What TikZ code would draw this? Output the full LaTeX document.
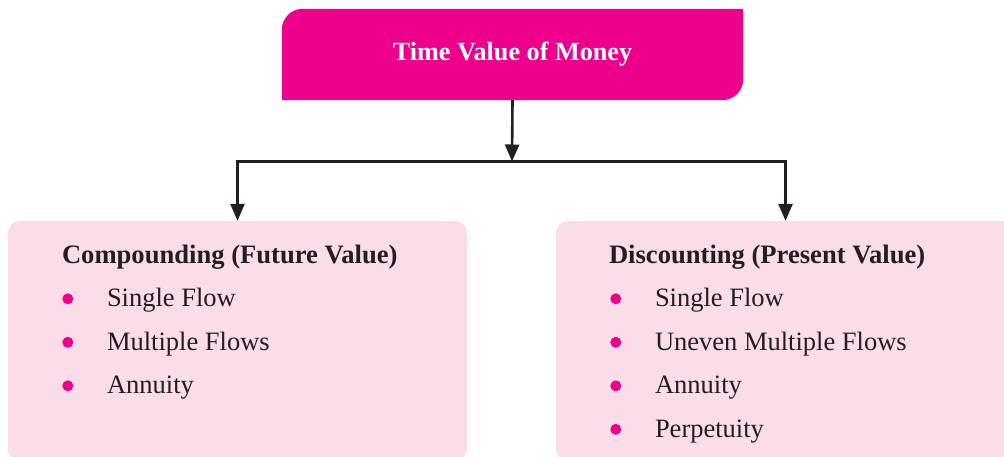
\documentclass[tikz,border=0pt]{standalone}
\usepackage{fontspec}
\setmainfont{Liberation Serif}
\usetikzlibrary{arrows.meta,backgrounds,positioning}
\definecolor{tvmpink}{RGB}{236,0,140}
\definecolor{boxpink}{RGB}{250,221,233}
\definecolor{inkgray}{RGB}{35,31,32}
\tikzset{
  topbox/.style={ minimum width=461pt, minimum height=91pt, inner sep=0pt, text=white, font=\fontsize{26.2}{31}\selectfont\bfseries }
}
\tikzset{
  subbox/.style={ fill=boxpink, rounded corners=12pt, minimum width=459pt, minimum height=240pt, inner sep=0pt }
}
\tikzset{
  headtext/.style={ anchor=base west, inner sep=0pt, text=inkgray, font=\fontsize{26.6}{31}\selectfont\bfseries }
}
\tikzset{
  itemtext/.style={ anchor=base west, inner sep=0pt, text=inkgray, font=\fontsize{26.5}{31}\selectfont }
}
\tikzset{
  bulletdot/.style={ circle, fill=tvmpink, inner sep=0pt, minimum size=11pt }
}
\tikzset{
  link/.style={ draw=inkgray, line width=2.6pt }
}

\begin{document}
\begin{tikzpicture}[x=1pt, y=-1pt]
      \useasboundingbox (0, 0) rectangle (1004, 456);

      \node[topbox] (tvm) at (512.5, 54.5) {Time Value of Money};
      \begin{scope}[on background layer]
        % only the top left and bottom right corners are round
        \fill[tvmpink] (tvm.south west) -- ([yshift=-21pt]tvm.north west)
          arc[start angle=180, end angle=90, radius=21pt] -- (tvm.north east)
          -- ([yshift=21pt]tvm.south east)
          arc[start angle=0, end angle=-90, radius=21pt] -- cycle;
      \end{scope}

      \node[subbox] (cmp) at (237.5, 341) {};
      \node[subbox] (dsc) at (785.5, 341) {};

      \coordinate (split) at (512, 161.5);

      \begin{scope}[link, -{Triangle[length=17pt, width=14pt]}]
        \draw (tvm.south) -- (split);
        \draw[{Triangle[length=17pt, width=14pt]}-{Triangle[length=17pt, width=14pt]}]
          (cmp.north) |- (split) -| (dsc.north);
      \end{scope}

      \node[headtext] (cmphead) at ([xshift=54pt, yshift=-43pt]cmp.north west) {Compounding (Future Value)};
      \node[itemtext] (cmp1) at ([xshift=99pt, yshift=-86pt]cmp.north west) {Single Flow};
      \node[itemtext] (cmp2) at ([yshift=-43.5pt]cmp1.base west) {Multiple Flows};
      \node[itemtext] (cmp3) at ([yshift=-43.5pt]cmp2.base west) {Annuity};
      \node[bulletdot] (cmpdot1) at ([xshift=-39pt, yshift=8pt]cmp1.base west) {};
      \node[bulletdot] (cmpdot2) at ([xshift=-39pt, yshift=8pt]cmp2.base west) {};
      \node[bulletdot] (cmpdot3) at ([xshift=-39pt, yshift=8pt]cmp3.base west) {};

      \node[headtext] (dschead) at ([xshift=53pt, yshift=-43pt]dsc.north west) {Discounting (Present Value)};
      \node[itemtext] (dsc1) at ([xshift=99pt, yshift=-86pt]dsc.north west) {Single Flow};
      \node[itemtext] (dsc2) at ([yshift=-43.5pt]dsc1.base west) {Uneven Multiple Flows};
      \node[itemtext] (dsc3) at ([yshift=-43.5pt]dsc2.base west) {Annuity};
      \node[itemtext] (dsc4) at ([yshift=-43.5pt]dsc3.base west) {Perpetuity};
      \node[bulletdot] (dscdot1) at ([xshift=-39pt, yshift=8pt]dsc1.base west) {};
      \node[bulletdot] (dscdot2) at ([xshift=-39pt, yshift=8pt]dsc2.base west) {};
      \node[bulletdot] (dscdot3) at ([xshift=-39pt, yshift=8pt]dsc3.base west) {};
      \node[bulletdot] (dscdot4) at ([xshift=-39pt, yshift=8pt]dsc4.base west) {};
    \end{tikzpicture}
\end{document}
